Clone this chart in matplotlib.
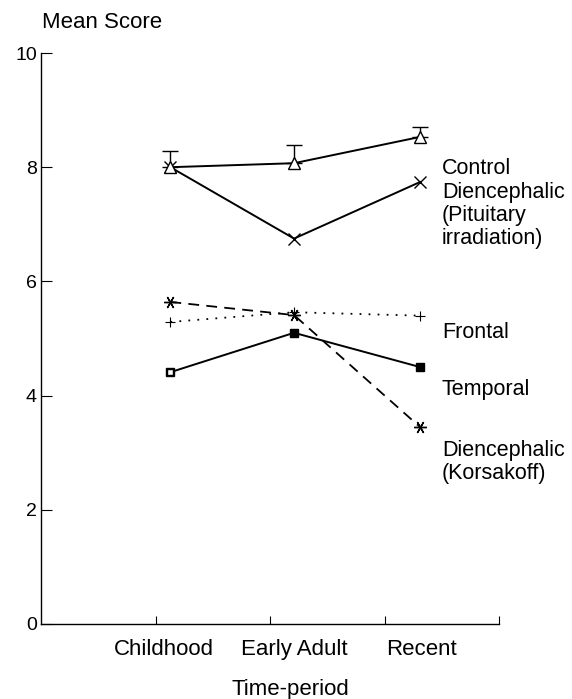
import matplotlib
matplotlib.use("Agg")
import matplotlib.pyplot as plt

plt.rcParams['font.family'] = ['Liberation Sans', 'DejaVu Sans']

# data
periods = ['Childhood', 'Early Adult', 'Recent']
control = [8.0, 8.07, 8.53]
control_err = [0.28, 0.32, 0.17]
dien_pit = [8.0, 6.75, 7.74]
dien_kor = [5.64, 5.41, 3.45]
frontal = [5.29, 5.46, 5.40]
temporal = [4.41, 5.10, 4.50]
yticks = [0, 2, 4, 6, 8, 10]

# category positions on an axis running 0..4
xpos = [1.13, 2.21, 3.31]
xlab = [1.075, 2.21, 3.32]

fig = plt.figure(figsize=(5.72, 6.99), dpi=100)
ax = fig.add_axes([41 / 572, 1 - 624 / 699, 458 / 572, 571 / 699])

ax.errorbar(xpos, control, yerr=[[0, 0, 0], control_err], color='black',
            lw=1.4, marker='^', mfc='white', mec='black', ms=8, mew=1.0,
            capsize=6, elinewidth=1.0, capthick=1.0)
ax.plot(xpos, dien_pit, color='black', lw=1.4, marker='x', ms=8, mew=1.0)
ax.plot(xpos, dien_kor, color='black', lw=1.3, ls=(0, (6, 4)),
        marker=(6, 2, 90), ms=9, mew=1.0)
ax.plot(xpos, frontal, color='black', lw=1.3, ls=(0, (1, 4)),
        marker='+', ms=7, mew=0.8)
ax.plot(xpos, temporal, color='black', lw=1.4, marker='s', ms=5.5)
ax.plot(xpos[:1], temporal[:1], ls='none', marker='s', ms=5,
        mfc='white', mec='black', mew=1.0)

ax.set_xlim(0, 4)
ax.set_ylim(0, 10)
ax.set_xticks([1, 2, 3, 4])
ax.set_xticklabels([])
ax.set_yticks(yticks)
ax.set_yticklabels([str(v) for v in yticks], fontsize=14)
ax.tick_params(axis='x', direction='in', length=6, width=0.8)
ax.tick_params(axis='y', direction='in', length=8, width=0.8, pad=3)
for s in ['top', 'right']:
    ax.spines[s].set_visible(False)
for s in ['left', 'bottom']:
    ax.spines[s].set_linewidth(1.0)

for x, lab in zip(xlab, periods):
    ax.text(x, -0.54, lab, ha='center', va='baseline', fontsize=16)

# right-hand series labels
lab_x = 3.50
fs = 15.5
ax.text(lab_x, 7.88, 'Control', va='baseline', fontsize=fs)
ax.text(lab_x, 7.74, 'Diencephalic\n(Pituitary\nirradiation)', va='top',
        fontsize=fs, linespacing=1.13)
ax.text(lab_x, 5.01, 'Frontal', va='baseline', fontsize=fs)
ax.text(lab_x, 4.01, 'Temporal', va='baseline', fontsize=fs)
ax.text(lab_x, 3.22, 'Diencephalic\n(Korsakoff)', va='top', fontsize=fs,
        linespacing=1.1)

fig.text(42 / 572, 1 - 28 / 699, 'Mean Score', ha='left', va='baseline', fontsize=16)
fig.text(290 / 572, 1 - 695 / 699, 'Time-period', ha='center', va='baseline', fontsize=16)

fig.savefig('out.png', dpi=100)
